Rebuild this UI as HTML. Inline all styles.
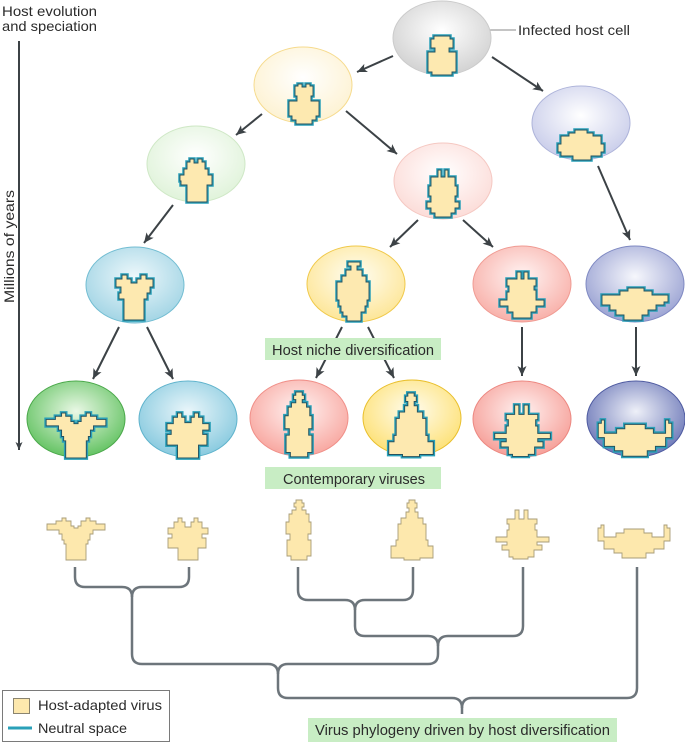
<!DOCTYPE html>
<html>
<head>
<meta charset="utf-8">
<style>
html,body{margin:0;padding:0;background:#fff;}
svg{display:block;}
text{font-family:"Liberation Sans",sans-serif;fill:#2b2b2b;}
</style>
</head>
<body>
<svg width="685" height="742" viewBox="0 0 685 742" xmlns="http://www.w3.org/2000/svg">
<defs>
  <radialGradient id="g1" cx="50%" cy="40%" r="60%"><stop offset="0" stop-color="#ffffff"/><stop offset="1" stop-color="#d2d2d2"/></radialGradient>
  <radialGradient id="g2" cx="50%" cy="40%" r="60%"><stop offset="0" stop-color="#ffffff"/><stop offset="1" stop-color="#fdf2d2"/></radialGradient>
  <radialGradient id="g3" cx="50%" cy="40%" r="60%"><stop offset="0" stop-color="#ffffff"/><stop offset="1" stop-color="#e0f3da"/></radialGradient>
  <radialGradient id="g4" cx="50%" cy="40%" r="60%"><stop offset="0" stop-color="#ffffff"/><stop offset="1" stop-color="#fcdcd8"/></radialGradient>
  <radialGradient id="g5" cx="50%" cy="40%" r="60%"><stop offset="0" stop-color="#ffffff"/><stop offset="1" stop-color="#c9cdea"/></radialGradient>
  <radialGradient id="g6" cx="50%" cy="40%" r="60%"><stop offset="0" stop-color="#eef8fb"/><stop offset="1" stop-color="#a3d5e5"/></radialGradient>
  <radialGradient id="g7" cx="50%" cy="40%" r="60%"><stop offset="0" stop-color="#fffdf3"/><stop offset="1" stop-color="#fde698"/></radialGradient>
  <radialGradient id="g8" cx="50%" cy="40%" r="60%"><stop offset="0" stop-color="#fff4f3"/><stop offset="1" stop-color="#f8b0a9"/></radialGradient>
  <radialGradient id="g9" cx="50%" cy="40%" r="60%"><stop offset="0" stop-color="#f6f7fc"/><stop offset="1" stop-color="#9ba3d3"/></radialGradient>
  <radialGradient id="g10" cx="50%" cy="40%" r="60%"><stop offset="0" stop-color="#eaf8e6"/><stop offset="1" stop-color="#64c363"/></radialGradient>
  <radialGradient id="g11" cx="50%" cy="40%" r="60%"><stop offset="0" stop-color="#eaf6fa"/><stop offset="1" stop-color="#88cadf"/></radialGradient>
  <radialGradient id="g12" cx="50%" cy="40%" r="60%"><stop offset="0" stop-color="#fff3f2"/><stop offset="1" stop-color="#f8a7a0"/></radialGradient>
  <radialGradient id="g13" cx="50%" cy="40%" r="60%"><stop offset="0" stop-color="#fffcef"/><stop offset="1" stop-color="#fde176"/></radialGradient>
  <radialGradient id="g14" cx="50%" cy="40%" r="60%"><stop offset="0" stop-color="#fff2f1"/><stop offset="1" stop-color="#f69f98"/></radialGradient>
  <radialGradient id="g15" cx="50%" cy="40%" r="60%"><stop offset="0" stop-color="#eef0f8"/><stop offset="1" stop-color="#6c78b8"/></radialGradient>

  <marker id="ah" markerUnits="userSpaceOnUse" markerWidth="12" markerHeight="10" refX="10" refY="4.5" orient="auto">
    <path d="M0,0 L10,4.5 L0,9 L2.5,4.5 Z" fill="#3c4246"/>
  </marker>
  <marker id="ah2" markerUnits="userSpaceOnUse" markerWidth="10" markerHeight="10" refX="8" refY="3.5" orient="auto">
    <path d="M0,0 L8,3.5 L0,7 L2,3.5 Z" fill="#3c4246"/>
  </marker>

  <polygon id="A" points="-29,6 -20,6 -20,3 -14,3 -14,0 -10,0 -10,3 -5,3 -5,8 -2,8 -2,10 2,10 2,8 5,8 5,3 10,3 10,0 14,0 14,3 20,3 20,6 29,6 29,12 17,12 17,16 14,16 14,22 12,22 12,26 10,26 10,42 -10,42 -10,26 -12,26 -12,22 -14,22 -14,16 -17,16 -17,12 -29,12"/>
  <polygon id="B" points="-14,4 -10,4 -10,0 -6,0 -6,4 -3,4 -3,9 3,9 3,4 6,4 6,0 10,0 10,4 14,4 14,10 20,10 20,16 14,16 14,20 18,20 18,30 10,30 10,42 -10,42 -10,30 -20,30 -20,20 -16,20 -16,16 -20,16 -20,10 -14,10"/>
  <polygon id="C" points="-3,0 3,0 3,3 5,3 5,7 3,7 3,10 7,10 7,14 10,14 10,22 12,22 12,34 9,34 9,40 12,40 12,56 8,56 8,60 -8,60 -8,56 -12,56 -12,40 -9,40 -9,34 -13,34 -13,22 -10,22 -10,14 -7,14 -7,10 -3,10 -3,7 -5,7 -5,3 -3,3"/>
  <polygon id="D" points="-3,0 3,0 3,3 5,3 5,8 3,8 3,12 6,12 6,18 11,18 11,24 14,24 14,40 16,40 16,46 21,46 21,58 8,58 8,60 -8,60 -8,58 -21,58 -21,46 -16,46 -16,40 -14,40 -14,24 -11,24 -11,18 -6,18 -6,12 -3,12 -3,8 -5,8 -5,3 -3,3"/>
  <polygon id="E" points="-7,0 -3,0 -3,9 2,9 2,0 6,0 6,9 15,9 15,14 13,14 13,20 15,20 15,27 27,27 27,32 15,32 15,35 20,35 20,40 12,40 12,47 6,47 6,49 -9,49 -9,47 -13,47 -13,40 -20,40 -20,35 -15,35 -15,32 -26,32 -26,27 -15,27 -15,20 -13,20 -13,14 -15,14 -15,9 -7,9"/>
  <polygon id="F" points="-36,3 -33,3 -33,0 -30,0 -30,12 -18,12 -18,8 -10,8 -10,4 10,4 10,8 18,8 18,12 30,12 30,0 33,0 33,3 36,3 36,16 30,16 30,24 20,24 20,28 12,28 12,33 -12,33 -12,28 -20,28 -20,24 -30,24 -30,16 -36,16"/>
  <polygon id="G" points="-8,0 8,0 8,3 11,3 11,12 7,12 7,16 14,16 14,36 10,36 10,39 -10,39 -10,36 -14,36 -14,16 -7,16 -7,12 -11,12 -11,3 -8,3"/>
  <polygon id="Y2" points="-9,2 -6,2 -6,0 -2,0 -2,3 2,3 2,0 6,0 6,2 9,2 9,12 7,12 7,17 15,17 15,32 12,32 12,36 8,36 8,40 -8,40 -8,36 -12,36 -12,32 -15,32 -15,17 -7,17 -7,12 -9,12"/>
  <polygon id="GL" points="-9,3 -6,3 -6,0 -2,0 -2,4 2,4 2,0 6,0 6,3 9,3 9,10 12,10 12,16 16,16 16,26 11,26 11,43 -9,43 -9,26 -15,26 -15,22 -16,22 -16,16 -12,16 -12,10 -9,10"/>
  <polygon id="PL" points="-5,0 -2,0 -2,7 2,7 2,0 5,0 5,7 12,7 12,16 14,16 14,26 12,26 12,32 16,32 16,38 12,38 12,43 8,43 8,47 -8,47 -8,43 -12,43 -12,38 -16,38 -16,32 -12,32 -12,26 -14,26 -14,16 -12,16 -12,7 -5,7"/>
  <polygon id="UL" points="-6,0 6,0 6,3 12,3 12,6 20,6 20,14 23,14 23,22 20,22 20,26 10,26 10,30 -8,30 -8,26 -20,26 -20,22 -23,22 -23,14 -20,14 -20,6 -12,6 -12,3 -6,3"/>
  <polygon id="C3" points="-18,4 -12,4 -12,0 -7,0 -7,4 -3,4 -3,8 3,8 3,4 7,4 7,0 12,0 12,4 19,4 19,12 16,12 16,18 13,18 13,24 10,24 10,45 -10,45 -10,24 -15,24 -15,18 -13,18 -13,12 -18,12"/>
  <polygon id="Y3" points="-6,0 6,0 6,4 3,4 3,8 8,8 8,14 12,14 12,20 15,20 15,38 13,38 13,44 11,44 11,50 7,50 7,59 -7,59 -7,54 -11,54 -11,50 -13,50 -13,44 -15,44 -15,38 -17,38 -17,20 -12,20 -12,14 -8,14 -8,8 -3,8 -3,4 -6,4"/>
  <polygon id="P3" points="-5,0 -1,0 -1,7 2,7 2,0 6,0 6,7 14,7 14,14 12,14 12,18 14,18 14,28 22,28 22,34 14,34 14,40 9,40 9,46 -9,46 -9,40 -14,40 -14,34 -22,34 -22,28 -15,28 -15,20 -13,20 -13,14 -15,14 -15,7 -5,7"/>
  <polygon id="U3" points="-8,0 8,0 8,3 16,3 16,7 32,7 32,14 28,14 28,17 20,17 20,22 12,22 12,27 6,27 6,32 -12,32 -12,27 -20,27 -20,22 -26,22 -26,17 -34,17 -34,7 -16,7 -16,3 -8,3"/>
</defs>

<!-- Left axis -->
<text x="2" y="16" font-size="14" textLength="95" lengthAdjust="spacingAndGlyphs">Host evolution</text>
<text x="2" y="31" font-size="14" textLength="95" lengthAdjust="spacingAndGlyphs">and speciation</text>
<line x1="19" y1="41" x2="19" y2="450" stroke="#3c4246" stroke-width="2" marker-end="url(#ah2)"/>
<text x="14" y="303" font-size="14" transform="rotate(-90 14 303)" textLength="113" lengthAdjust="spacingAndGlyphs">Millions of years</text>

<!-- Arrows -->
<g stroke="#3c4246" stroke-width="2" fill="none">
  <line x1="393" y1="56" x2="357" y2="72" marker-end="url(#ah)"/>
  <line x1="492" y1="57" x2="543" y2="91" marker-end="url(#ah)"/>
  <line x1="262" y1="114" x2="236" y2="135" marker-end="url(#ah)"/>
  <line x1="346" y1="111" x2="397" y2="154" marker-end="url(#ah)"/>
  <line x1="173" y1="205" x2="144" y2="243" marker-end="url(#ah)"/>
  <line x1="418" y1="220" x2="390" y2="247" marker-end="url(#ah)"/>
  <line x1="463" y1="220" x2="493" y2="247" marker-end="url(#ah)"/>
  <line x1="598" y1="166" x2="630" y2="240" marker-end="url(#ah)"/>
  <line x1="119" y1="327" x2="93" y2="379" marker-end="url(#ah)"/>
  <line x1="147" y1="327" x2="173" y2="379" marker-end="url(#ah)"/>
  <line x1="342" y1="327" x2="316" y2="378" marker-end="url(#ah)"/>
  <line x1="368" y1="327" x2="394" y2="378" marker-end="url(#ah)"/>
  <line x1="522" y1="327" x2="522" y2="376" marker-end="url(#ah)"/>
  <line x1="636" y1="327" x2="636" y2="376" marker-end="url(#ah)"/>
</g>

<!-- Infected host cell label -->
<line x1="483" y1="30" x2="516" y2="30" stroke="#8a8a8a" stroke-width="1"/>
<text x="518" y="35" font-size="14" textLength="112" lengthAdjust="spacingAndGlyphs">Infected host cell</text>

<!-- Cells -->
<ellipse cx="442" cy="38" rx="49" ry="37" fill="url(#g1)" stroke="#cbcbcb" stroke-width="1"/>
<ellipse cx="581" cy="123" rx="49" ry="37" fill="url(#g5)" stroke="#aeb4da" stroke-width="1"/>
<ellipse cx="303" cy="85" rx="49" ry="38" fill="url(#g2)" stroke="#f6db8e" stroke-width="1"/>
<ellipse cx="196" cy="164" rx="49" ry="38" fill="url(#g3)" stroke="#cfe8c6" stroke-width="1"/>
<ellipse cx="443" cy="181" rx="49" ry="38" fill="url(#g4)" stroke="#f5c8c2" stroke-width="1"/>
<ellipse cx="135" cy="285" rx="49" ry="38" fill="url(#g6)" stroke="#72bdd2" stroke-width="1"/>
<ellipse cx="356" cy="284" rx="49" ry="38" fill="url(#g7)" stroke="#f0c94a" stroke-width="1"/>
<ellipse cx="522" cy="284" rx="49" ry="38" fill="url(#g8)" stroke="#f09b93" stroke-width="1"/>
<ellipse cx="635" cy="284" rx="49" ry="38" fill="url(#g9)" stroke="#7f89c2" stroke-width="1"/>
<ellipse cx="76" cy="419" rx="49" ry="38" fill="url(#g10)" stroke="#4aa84a" stroke-width="1"/>
<ellipse cx="188" cy="419" rx="49" ry="38" fill="url(#g11)" stroke="#5fb3cc" stroke-width="1"/>
<ellipse cx="299" cy="418" rx="49" ry="38" fill="url(#g12)" stroke="#f08f88" stroke-width="1"/>
<ellipse cx="412" cy="418" rx="49" ry="38" fill="url(#g13)" stroke="#e9bf2c" stroke-width="1"/>
<ellipse cx="522" cy="419" rx="49" ry="38" fill="url(#g14)" stroke="#ec8780" stroke-width="1"/>
<ellipse cx="636" cy="419" rx="49" ry="38" fill="url(#g15)" stroke="#4e5aa0" stroke-width="1"/>

<!-- Viruses inside cells: teal outer, dark inner -->
<g stroke-linejoin="miter">
  <g fill="#fde9b0" stroke="#2aa0b8" stroke-width="3.5">
    <use href="#G" transform="translate(442,36)"/>
    <use href="#Y2" transform="translate(304,84)"/>
    <use href="#GL" transform="translate(196,159)"/>
    <use href="#PL" transform="translate(443,170)"/>
    <use href="#UL" transform="translate(581,130)"/>
    <use href="#C3" transform="translate(134,275)"/>
    <use href="#Y3" transform="translate(354,262)"/>
    <use href="#P3" transform="translate(522,272)"/>
    <use href="#U3" transform="translate(636,288)"/>
    <use href="#A" transform="translate(76,413) scale(1.03,1.07)"/>
    <use href="#B" transform="translate(188,413) scale(1.05,1.07)"/>
    <use href="#C" transform="translate(299,392) scale(1.08)"/>
    <use href="#D" transform="translate(411,393) scale(1.06)"/>
    <use href="#E" transform="translate(522,405) scale(1.05)"/>
    <use href="#F" transform="translate(635,420) scale(1.02,1.1)"/>
  </g>
  <g fill="#fde9b0" stroke="#24525f" stroke-width="0.9">
    <use href="#G" transform="translate(442,36)"/>
    <use href="#Y2" transform="translate(304,84)"/>
    <use href="#GL" transform="translate(196,159)"/>
    <use href="#PL" transform="translate(443,170)"/>
    <use href="#UL" transform="translate(581,130)"/>
    <use href="#C3" transform="translate(134,275)"/>
    <use href="#Y3" transform="translate(354,262)"/>
    <use href="#P3" transform="translate(522,272)"/>
    <use href="#U3" transform="translate(636,288)"/>
    <use href="#A" transform="translate(76,413) scale(1.03,1.07)"/>
    <use href="#B" transform="translate(188,413) scale(1.05,1.07)"/>
    <use href="#C" transform="translate(299,392) scale(1.08)"/>
    <use href="#D" transform="translate(411,393) scale(1.06)"/>
    <use href="#E" transform="translate(522,405) scale(1.05)"/>
    <use href="#F" transform="translate(635,420) scale(1.02,1.1)"/>
  </g>
</g>

<!-- Green labels -->
<rect x="265" y="338" width="176" height="22" fill="#c8edc4"/>
<text x="272" y="355" font-size="15" textLength="162" lengthAdjust="spacingAndGlyphs">Host niche diversification</text>
<rect x="265" y="467" width="176" height="22" fill="#c8edc4"/>
<text x="283" y="484" font-size="15" textLength="142" lengthAdjust="spacingAndGlyphs">Contemporary viruses</text>

<!-- Bottom viruses -->
<g fill="#fde8ad" stroke="#a89c78" stroke-width="0.9">
  <use href="#A" transform="translate(76,518)"/>
  <use href="#B" transform="translate(188,518)"/>
  <use href="#C" transform="translate(299,500)"/>
  <use href="#D" transform="translate(412,500)"/>
  <use href="#E" transform="translate(522,510)"/>
  <use href="#F" transform="translate(634,525)"/>
</g>

<!-- Phylogeny tree -->
<g stroke="#6d757b" stroke-width="2.5" fill="none">
  <path d="M75,567 V577 Q75,587 85,587 H122 Q132,587 132,597 V654 Q132,664 142,664 H268 Q278,664 278,674 V688 Q278,698 288,698 H452 Q462,698 462,708 V714"/>
  <path d="M189,567 V577 Q189,587 179,587 H142 Q132,587 132,597"/>
  <path d="M298,567 V590 Q298,600 308,600 H345 Q355,600 355,610 V626 Q355,636 365,636 H428 Q438,636 438,646 V654 Q438,664 428,664 H288 Q278,664 278,674"/>
  <path d="M413,567 V590 Q413,600 403,600 H365 Q355,600 355,610"/>
  <path d="M523,567 V626 Q523,636 513,636 H448 Q438,636 438,646"/>
  <path d="M637,567 V688 Q637,698 627,698 H472 Q462,698 462,708"/>
</g>

<rect x="308" y="718" width="309" height="24" fill="#c8edc4"/>
<text x="315" y="735" font-size="15" textLength="295" lengthAdjust="spacingAndGlyphs">Virus phylogeny driven by host diversification</text>

<!-- Legend -->
<rect x="2.5" y="690.5" width="167" height="51" fill="#fff" stroke="#7a7a7a" stroke-width="1"/>
<rect x="13.5" y="698.5" width="16" height="15" fill="#fde8ad" stroke="#8a8470" stroke-width="1"/>
<text x="38" y="710" font-size="14" textLength="124" lengthAdjust="spacingAndGlyphs">Host-adapted virus</text>
<line x1="8" y1="728" x2="32" y2="728" stroke="#2aa0b8" stroke-width="3"/>
<text x="38" y="733" font-size="14" textLength="89" lengthAdjust="spacingAndGlyphs">Neutral space</text>
</svg>
</body>
</html>
